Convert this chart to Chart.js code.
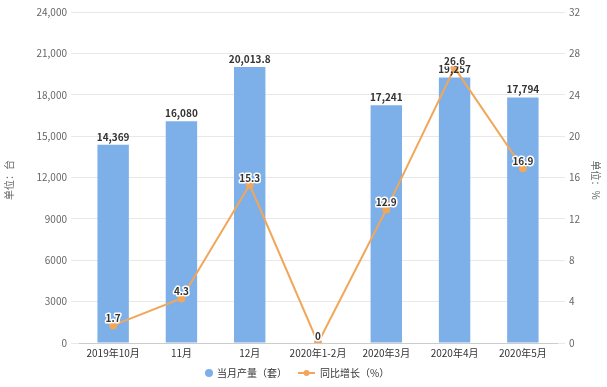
<!DOCTYPE html>
<html><head><meta charset="utf-8">
<script src="https://cdn.jsdelivr.net/npm/chart.js@4.4.1/dist/chart.umd.min.js"></script>
<style>html,body{margin:0;padding:0;background:#fff}#wrap{width:607px;height:387px}</style>
</head><body><div id="wrap"><canvas id="c" width="607" height="387"></canvas></div>
<script>
const categories = ['2019年10月','11月','12月','2020年1-2月','2020年3月','2020年4月','2020年5月'];
const production = [14369, 16080, 20013.8, null, 17241, 19257, 17794];
const growth = [1.7, 4.3, 15.3, 0, 12.9, 26.6, 16.9];
const seriesNames = ['当月产量（套）', '同比增长（%）'];
const axisTitles = ['单位：台', '单位：%'];

const BAR = '#7dafe9';
const LINE = '#f1a75a';
const FONT = '"Noto Sans CJK SC","Noto Sans",sans-serif';

const fmt = v => v >= 10000 ? v.toLocaleString('en-US') : String(v);

const labelPlugin = {
  id: 'labels',
  afterDatasetsDraw(chart) {
    const ctx = chart.ctx;
    ctx.save();
    ctx.font = 'bold 10px ' + FONT;
    ctx.textAlign = 'center';
    ctx.textBaseline = 'bottom';
    const mBar = chart.getDatasetMeta(1);
    mBar.data.forEach((el, i) => {
      const v = production[i];
      if (v == null) return;
      ctx.fillStyle = '#333';
      ctx.fillText(v.toLocaleString('en-US'), el.x, el.y - 3);
    });
    const mLine = chart.getDatasetMeta(0);
    ctx.lineWidth = 3;
    ctx.strokeStyle = '#fff';
    ctx.lineJoin = 'round';
    mLine.data.forEach((el, i) => {
      const t = String(growth[i]);
      ctx.strokeText(t, el.x, el.y - 2);
      ctx.fillStyle = '#333';
      ctx.fillText(t, el.x, el.y - 2);
    });
    ctx.restore();
  },
  afterDraw(chart) {
    const ctx = chart.ctx;
    ctx.save();
    ctx.font = '10px ' + FONT;
    ctx.fillStyle = '#666';
    ctx.textAlign = 'center';
    ctx.textBaseline = 'middle';
    ctx.save();
    ctx.translate(9, 180);
    ctx.rotate(-Math.PI / 2);
    ctx.fillText(axisTitles[0], 0, 0);
    ctx.restore();
    ctx.save();
    ctx.translate(596, 180);
    ctx.rotate(Math.PI / 2);
    ctx.fillText(axisTitles[1], 0, 0);
    ctx.restore();
    // legend
    const y = 373;
    ctx.fillStyle = BAR;
    ctx.beginPath(); ctx.arc(209, y, 4, 0, Math.PI * 2); ctx.fill();
    ctx.fillStyle = '#333';
    ctx.textAlign = 'left';
    ctx.fillText(seriesNames[0], 217, y);
    ctx.strokeStyle = LINE; ctx.lineWidth = 2;
    ctx.beginPath(); ctx.moveTo(298, y); ctx.lineTo(315, y); ctx.stroke();
    ctx.fillStyle = LINE;
    ctx.beginPath(); ctx.arc(306.5, y, 3, 0, Math.PI * 2); ctx.fill();
    ctx.fillStyle = '#333';
    ctx.fillText(seriesNames[1], 320, y);
    ctx.restore();
  }
};

new Chart(document.getElementById('c'), {
  data: {
    labels: categories,
    datasets: [
      { type: 'line', label: seriesNames[1], data: growth, yAxisID: 'y1', borderColor: LINE, backgroundColor: LINE,
        borderWidth: 2, pointRadius: 3, pointBackgroundColor: LINE, pointBorderColor: LINE, tension: 0, order: 0 },
      { type: 'bar', label: seriesNames[0], data: production, yAxisID: 'y', backgroundColor: BAR,
        barPercentage: 0.46, categoryPercentage: 1, order: 1 }
    ]
  },
  options: {
    responsive: false,
    animation: false,
    devicePixelRatio: 1,
    layout: { padding: { top: 12, bottom: 25, left: 0, right: 0 } },
    plugins: { legend: { display: false }, tooltip: { enabled: false } },
    scales: {
      x: {
        grid: { display: false, drawTicks: false },
        border: { color: '#ccc' },
        ticks: { color: '#333', font: { size: 10, family: FONT }, padding: 4, maxRotation: 0, autoSkip: false },
        afterFit(s) { s.height = 19; }
      },
      y: {
        position: 'left', min: 0, max: 24000,
        grid: { color: '#e8e8e8', tickLength: 8 },
        border: { display: false },
        ticks: { stepSize: 3000, color: '#666', font: { size: 10, family: FONT }, padding: 4, callback: v => fmt(v) },
        afterFit(s) { s.width = 79; }
      },
      y1: {
        position: 'right', min: 0, max: 32,
        grid: { drawOnChartArea: false, color: '#e8e8e8', tickLength: 8 },
        border: { display: false },
        ticks: { stepSize: 4, color: '#666', font: { size: 10, family: FONT }, padding: 4 },
        afterFit(s) { s.width = 50; }
      }
    }
  },
  plugins: [labelPlugin]
});
</script></body></html>
